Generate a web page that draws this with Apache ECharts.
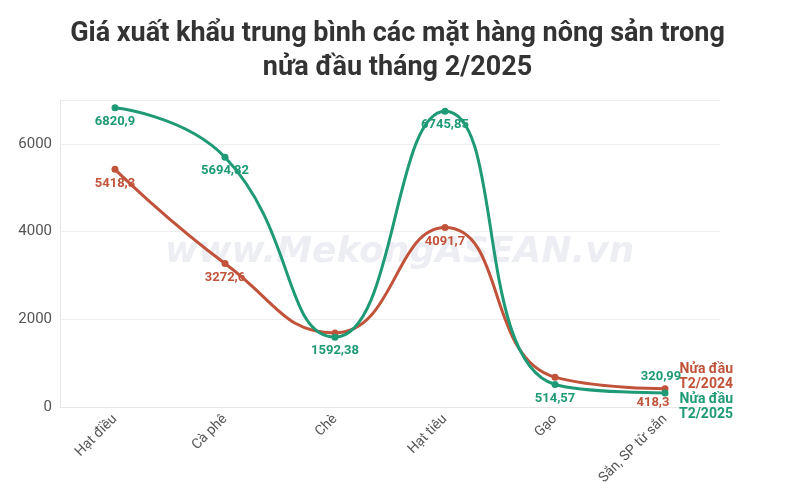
<!DOCTYPE html>
<html>
<head>
<meta charset="utf-8">
<script src="https://cdn.jsdelivr.net/npm/echarts@6/dist/echarts.min.js"></script>
<style>html,body{margin:0;padding:0;background:#fff}#main{width:795px;height:502px}</style>
</head>
<body>
<div id="main"></div>
<script>
var categories = ['Hạt điều', 'Cà phê', 'Chè', 'Hạt tiêu', 'Gạo', 'Sắn, SP từ sắn'];
var values2024 = [5418.3, 3272.6, 1690, 4091.7, 680, 418.3];
var values2025 = [6820.9, 5694.82, 1592.38, 6745.85, 514.57, 320.99];
var labels2024 = ['5418,3', '3272,6', '', '4091,7', '', '418,3'];
var labels2025 = ['6820,9', '5694,82', '1592,38', '6745,85', '514,57', '320,99'];
var yTicks = [0, 2000, 4000, 6000];

var red = '#c0533a', green = '#1e9a76';
var font = 'Roboto';

function makeSeries(name, data, labels, color, endText, lastLabel) {
    return {
        name: name,
        type: 'line',
        smooth: 0.5,
        data: data.map(function (v, i) {
            // last point label sits elsewhere in the reference
            return i === data.length - 1 ? { value: v, label: lastLabel } : v;
        }),
        symbol: 'circle',
        symbolSize: 7,
        lineStyle: { width: 3, color: color },
        itemStyle: { color: color },
        label: {
            show: true,
            position: 'bottom',
            distance: 4,
            color: color,
            fontFamily: font,
            fontWeight: 'bold',
            fontSize: 13,
            formatter: function (p) { return labels[p.dataIndex]; }
        },
        endLabel: {
            show: true,
            formatter: endText,
            color: color,
            fontFamily: font,
            fontWeight: 'bold',
            fontSize: 14,
            align: 'right',
            lineHeight: 15,
            offset: endText.indexOf('2024') > 0 ? [60, -12] : [60, 14]
        }
    };
}

var myChart = echarts.init(document.getElementById('main'));
var option = {
    title: {
        text: 'Giá xuất khẩu trung bình các mặt hàng nông sản trong\nnửa đầu tháng 2/2025',
        left: 'center',
        top: 12,
        textStyle: { fontFamily: font, fontWeight: 'bold', fontSize: 27, lineHeight: 34, color: '#333' }
    },
    graphic: [{
        type: 'text',
        left: 165, top: 235,
        style: { text: 'www.MekongASEAN.vn', font: 'italic bold 36px "DejaVu Sans"', fill: 'rgba(200,205,220,0.35)' }
    }],
    grid: { left: 60, right: 75, top: 100, bottom: 95 },
    xAxis: {
        type: 'category',
        data: categories,
        boundaryGap: true,
        axisLine: { lineStyle: { color: '#e6e6e6' } },
        axisTick: { alignWithLabel: true, lineStyle: { color: '#ddd' } },
        axisLabel: { rotate: 45, color: '#555', fontFamily: font, fontSize: 14, margin: 10 }
    },
    yAxis: {
        type: 'value',
        min: 0, max: 7000, interval: 2000,
        axisLine: { show: true, lineStyle: { color: '#e6e6e6' } },
        splitLine: { lineStyle: { color: '#eee' } },
        axisLabel: {
            color: '#555', fontFamily: font, fontSize: 15,
            formatter: function (v) { return yTicks.indexOf(v) >= 0 ? String(v) : ''; }
        }
    },
    series: [
        makeSeries('Nửa đầu T2/2024', values2024, labels2024, red, 'Nửa đầu\nT2/2024',
            { position: 'bottom', offset: [-12, 0] }),
        makeSeries('Nửa đầu T2/2025', values2025, labels2025, green, 'Nửa đầu\nT2/2025',
            { position: 'top', offset: [-4, -2] })
    ]
};
myChart.setOption(option);
</script>
</body>
</html>
